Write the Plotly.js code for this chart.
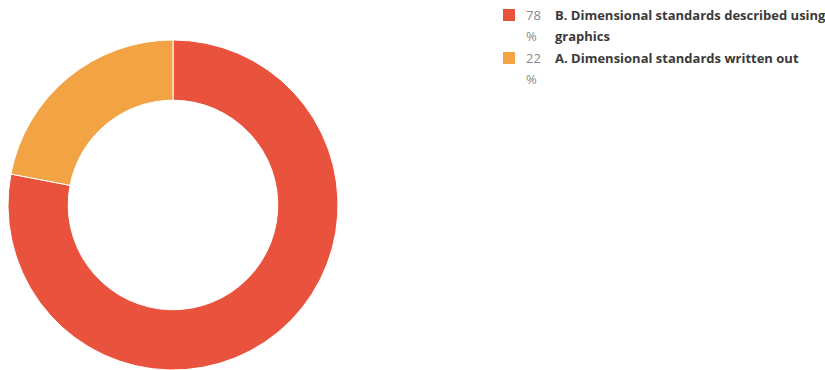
<!DOCTYPE html>
<html>
<head>
<meta charset="utf-8">
<script src="https://cdn.plot.ly/plotly-3.0.1.min.js"></script>
<style>html,body{margin:0;padding:0;background:#fff;}#chart{width:825px;height:370px;}</style>
</head>
<body>
<div id="chart"></div>
<script>
var labels = ["B. Dimensional standards described using graphics", "A. Dimensional standards written out"];
var values = [78, 22];
var colors = ["#E9523C", "#F2A444"];
var valueSuffix = " %";

var W = 825, H = 370;
function py(p) { return 1 - p / H; }
function px(p) { return p / W; }

// simple word wrap for legend labels
function wrap(text, maxChars) {
  var words = text.split(" "), lines = [], cur = "";
  words.forEach(function (w) {
    if ((cur + (cur ? " " : "") + w).length > maxChars && cur) { lines.push(cur); cur = w; }
    else { cur = cur ? cur + " " + w : w; }
  });
  if (cur) lines.push(cur);
  return lines;
}

var annotations = [], shapes = [];
var rowTop = 15, lineH = 21, rowGap = 43;
labels.forEach(function (lab, i) {
  var yc = rowTop + i * rowGap;
  shapes.push({type: "rect", xref: "paper", yref: "paper",
    x0: px(503), x1: px(515), y0: py(yc - 6), y1: py(yc + 6),
    fillcolor: colors[i], line: {width: 0}});
  var valLines = [String(values[i]), valueSuffix.trim()];
  valLines.forEach(function (t, k) {
    annotations.push({xref: "paper", yref: "paper", x: px(524), y: py(yc + k * lineH),
      xanchor: "left", yanchor: "middle", showarrow: false, text: t,
      font: {family: "Open Sans", size: 13, color: "#8a8a8a"}});
  });
  wrap(lab, 41).forEach(function (t, k) {
    annotations.push({xref: "paper", yref: "paper", x: px(553), y: py(yc + k * lineH),
      xanchor: "left", yanchor: "middle", showarrow: false, text: "<b>" + t + "</b>",
      font: {family: "Open Sans", size: 13, color: "#3a3a3a"}});
  });
});

var data = [{
  type: "pie",
  labels: labels,
  values: values,
  hole: 0.635,
  sort: false,
  direction: "clockwise",
  rotation: 0,
  textinfo: "none",
  hoverinfo: "label+percent",
  marker: {colors: colors, line: {color: "#ffffff", width: 1}},
  domain: {x: [0, 0.4194], y: [0, 0.892]}
}];

var layout = {
  width: W, height: H,
  margin: {l: 0, r: 0, t: 0, b: 0},
  paper_bgcolor: "#ffffff",
  showlegend: false,
  shapes: shapes,
  annotations: annotations
};

Plotly.newPlot("chart", data, layout, {displayModeBar: false, staticPlot: true});
</script>
</body>
</html>
